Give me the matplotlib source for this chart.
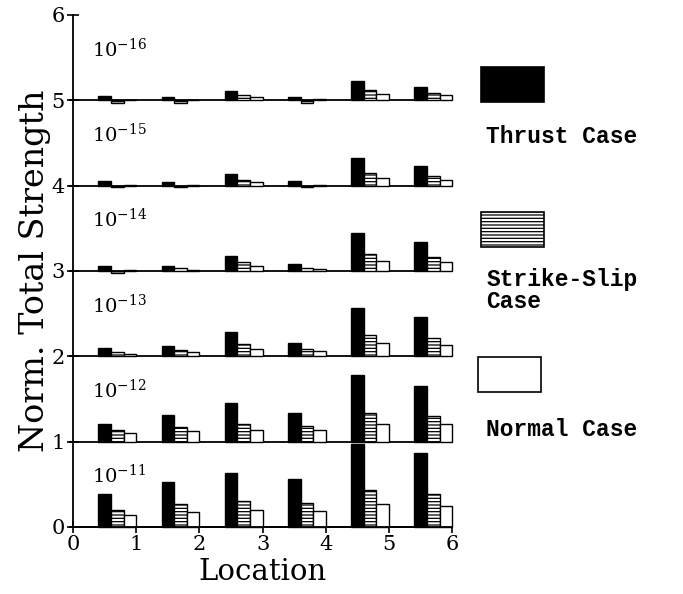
import matplotlib
matplotlib.use("Agg")
import matplotlib.pyplot as plt
import numpy as np

plt.rcParams['mathtext.fontset'] = 'dejavuserif'
plt.rcParams['hatch.linewidth'] = 0.9

locations = [1, 2, 3, 4, 5, 6]
levels = [-11, -12, -13, -14, -15, -16]   # baseline 0..5
baselines = [0, 1, 2, 3, 4, 5]

thrust = [
    [0.39, 0.53, 0.63, 0.56, 0.97, 0.87],
    [0.21, 0.31, 0.45, 0.34, 0.78, 0.65],
    [0.10, 0.125, 0.28, 0.16, 0.56, 0.46],
    [0.06, 0.06, 0.17, 0.075, 0.44, 0.34],
    [0.05, 0.04, 0.13, 0.05, 0.32, 0.23],
    [0.047, 0.04, 0.11, 0.04, 0.23, 0.16],
]
strike_slip = [
    [0.20, 0.27, 0.30, 0.28, 0.43, 0.38],
    [0.13, 0.17, 0.21, 0.18, 0.33, 0.30],
    [0.05, 0.07, 0.14, 0.09, 0.25, 0.21],
    [-0.02, 0.035, 0.105, 0.035, 0.20, 0.16],
    [-0.02, -0.02, 0.066, -0.02, 0.15, 0.11],
    [-0.03, -0.03, 0.06, -0.03, 0.125, 0.08],
]
normal = [
    [0.14, 0.18, 0.20, 0.19, 0.27, 0.24],
    [0.10, 0.12, 0.14, 0.13, 0.21, 0.20],
    [0.03, 0.055, 0.09, 0.06, 0.16, 0.13],
    [0.015, 0.015, 0.055, 0.02, 0.12, 0.10],
    [0.01, 0.005, 0.043, 0.01, 0.09, 0.066],
    [0.005, 0.005, 0.04, 0.01, 0.074, 0.055],
]
x_ticks = [0, 1, 2, 3, 4, 5, 6]
y_ticks = [0, 1, 2, 3, 4, 5, 6]

fig = plt.figure(figsize=(6.83, 5.94), dpi=100)
ax = fig.add_axes([0.107, 0.113, 0.555, 0.862])
ax.set_xlim(0, 6)
ax.set_ylim(0, 6)

w = 0.2
loc = np.array(locations, dtype=float)
for i, base in enumerate(baselines):
    ax.plot([-0.05, 6.0], [base, base], color='black', lw=1.3, zorder=1,
            clip_on=False)
    b1 = ax.bar(loc - 0.6, thrust[i], width=w, bottom=base, align='edge',
                color='black', edgecolor='black', lw=1.0, zorder=2)
    b2 = ax.bar(loc - 0.4, strike_slip[i], width=w, bottom=base, align='edge',
                color='white', edgecolor='black', hatch='-----', lw=1.0, zorder=2)
    b3 = ax.bar(loc - 0.2, normal[i], width=w, bottom=base, align='edge',
                color='white', edgecolor='black', lw=1.0, zorder=2)
    for bc in (b1, b2, b3):
        for p in bc:
            p.set_clip_on(False)
    ax.text(0.30, base + 0.6, r'$10^{%d}$' % levels[i], fontsize=14,
            va='center', ha='left', family='DejaVu Serif')

for s in ['top', 'right']:
    ax.spines[s].set_visible(False)
ax.spines['left'].set_linewidth(1.3)
ax.spines['bottom'].set_linewidth(1.3)
ax.set_xticks(x_ticks)
ax.set_yticks(y_ticks)
ax.tick_params(direction='inout', length=8, width=1.2, labelsize=15, pad=2)
for lab in ax.get_xticklabels() + ax.get_yticklabels():
    lab.set_family('DejaVu Serif')
ax.set_xlabel('Location', fontsize=21, family='DejaVu Serif', labelpad=3)
ax.set_ylabel('Norm. Total Strength', fontsize=24, family='DejaVu Serif',
              labelpad=0)

# legend
leg_items = [('Thrust Case', 'black', None, 0.704, 0.887, 0.790),
             ('Strike-Slip\nCase', 'white', '-----', 0.704, 0.643, 0.549),
             ('Normal Case', 'white', None, 0.700, 0.399, 0.296)]
for label, fc, hatch, x0, ytop, ytext in leg_items:
    r = plt.Rectangle((x0, ytop - 0.059), 0.092, 0.059,
                      transform=fig.transFigure, facecolor=fc,
                      edgecolor='black', lw=1.2, hatch=hatch)
    fig.add_artist(r)
    fig.text(0.712, ytext, label, fontsize=16.5, family='Liberation Mono',
             weight='bold', va='top', ha='left', linespacing=0.95)

fig.savefig('out.png', dpi=100)
